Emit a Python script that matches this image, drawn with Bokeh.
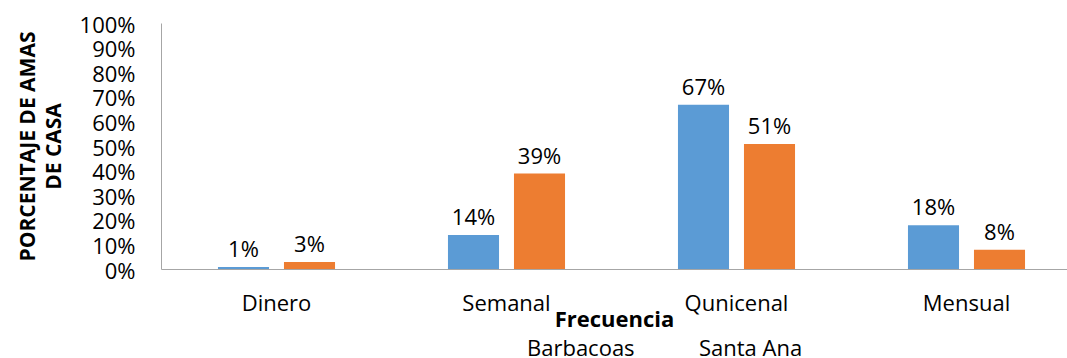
from bokeh.plotting import figure
from bokeh.layouts import column
from bokeh.models import Range1d, FixedTicker, Legend, LegendItem, ColumnDataSource
from bokeh.embed import file_html
from bokeh.resources import INLINE
from bokeh.core.properties import value

categories = ["Dinero", "Semanal", "Qunicenal", "Mensual"]
barbacoas = [1, 14, 67, 18]
santa_ana = [3, 39, 51, 8]
series_names = ["Barbacoas", "Santa Ana"]
y_ticks = [0, 10, 20, 30, 40, 50, 60, 70, 80, 90, 100]

FONT = "Open Sans"
BLUE = "#5B9BD5"
ORANGE = "#ED7D31"
AXIS = "#A6A6A6"

centers = [i + 0.5 for i in range(len(categories))]
off = 0.1435
bw = 0.222

src_b = ColumnDataSource(dict(x=[c - off for c in centers], y=barbacoas,
                              t=[f"{v}%" for v in barbacoas]))
src_s = ColumnDataSource(dict(x=[c + off for c in centers], y=santa_ana,
                              t=[f"{v}%" for v in santa_ana]))

p = figure(frame_width=906, frame_height=246,
           output_backend="svg", toolbar_location=None,
           x_range=Range1d(0, 906 / 230), y_range=Range1d(0, 100),
           min_border_left=161, min_border_right=0, min_border_top=23,
           min_border_bottom=0)
p.outline_line_color = None
p.grid.visible = False
p.background_fill_color = "white"

p.vbar(x="x", top="y", width=bw, source=src_b, fill_color=BLUE, line_color=None)
p.vbar(x="x", top="y", width=bw, source=src_s, fill_color=ORANGE, line_color=None)

for src in (src_b, src_s):
    p.text(x="x", y="y", text="t", source=src, text_align="center",
           text_baseline="alphabetic", y_offset=-19, text_font=value(FONT),
           text_font_size="22px", text_color="black")

# y axis
ya = p.yaxis[0]
ya.ticker = FixedTicker(ticks=y_ticks)
ya.major_label_overrides = {t: f"{t}%" for t in y_ticks}
ya.major_tick_line_color = None
ya.minor_tick_line_color = None
ya.major_tick_out = 0
ya.major_label_standoff = 26
ya.axis_line_color = AXIS
ya.major_label_text_font = FONT
ya.major_label_text_font_size = "22px"
ya.major_label_text_color = "black"
ya.axis_label = "PORCENTAJE DE AMAS\nDE CASA"
ya.axis_label_text_font = FONT
ya.axis_label_text_font_style = "bold"
ya.axis_label_text_font_size = "21px"
ya.axis_label_text_color = "black"
ya.axis_label_text_line_height = 0.9
ya.axis_label_standoff = 10

# x axis
xa = p.xaxis[0]
xa.ticker = FixedTicker(ticks=centers)
xa.major_label_overrides = {c: n for c, n in zip(centers, categories)}
xa.major_tick_line_color = None
xa.minor_tick_line_color = None
xa.major_tick_out = 0
xa.major_label_standoff = 17
xa.axis_line_color = AXIS
xa.major_label_text_font = FONT
xa.major_label_text_font_size = "22px"
xa.major_label_text_color = "black"
xa.axis_label = "Frecuencia"
xa.axis_label_text_font = FONT
xa.axis_label_text_font_style = "bold"
xa.axis_label_text_font_size = "22px"
xa.axis_label_text_color = "black"
xa.axis_label_standoff = -17

# legend strip below the chart
p2 = figure(frame_width=906, frame_height=23, output_backend="svg",
            toolbar_location=None, x_axis_type=None, y_axis_type=None,
            x_range=Range1d(0, 1), y_range=Range1d(0, 1),
            min_border_left=161, min_border_right=0, min_border_top=0,
            min_border_bottom=0)
p2.outline_line_color = None
p2.grid.visible = False
lb = p2.vbar(x=[], top=[], width=0.1, fill_color=BLUE, line_color=None)
ls = p2.vbar(x=[], top=[], width=0.1, fill_color=ORANGE, line_color=None)
# invisible spacer entries used only to push the legend to its place
spacer = p2.vbar(x=[], top=[], width=0.1, fill_alpha=0, line_alpha=0)

legend = Legend(items=[LegendItem(label=" ", renderers=[spacer]),
                       LegendItem(label=" ", renderers=[spacer]),
                       LegendItem(label=series_names[0], renderers=[lb]),
                       LegendItem(label=series_names[1], renderers=[ls])],
                orientation="horizontal", location="left",
                glyph_width=14, glyph_height=14, label_standoff=8, spacing=40,
                label_width=110,
                padding=0, margin=0, border_line_color=None,
                background_fill_alpha=0, label_text_font=FONT,
                label_text_font_size="22px", label_text_color="black",
                label_height=20)
p2.add_layout(legend, "center")

layout = column(p, p2, spacing=0)
open("out.html", "w").write(file_html(layout, INLINE))
